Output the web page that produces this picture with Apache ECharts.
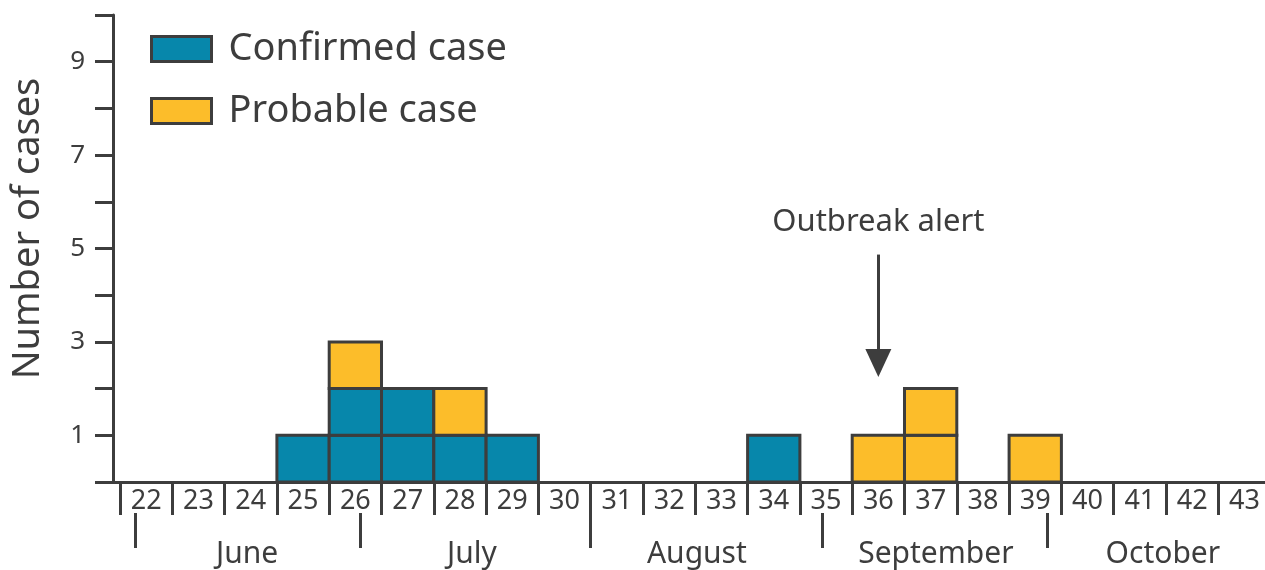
<!DOCTYPE html>
<html>
<head>
<meta charset="utf-8">
<script src="https://cdn.jsdelivr.net/npm/echarts@6/dist/echarts.min.js"></script>
<style>
  html, body { margin: 0; padding: 0; background: #ffffff; }
  #chart { width: 1265px; height: 570px; }
</style>
</head>
<body>
<div id="chart"></div>
<script>
// Epidemiological weeks shown on the axis
const weeks = [22, 23, 24, 25, 26, 27, 28, 29, 30, 31, 32, 33, 34, 35, 36, 37, 38, 39, 40, 41, 42, 43];
// Cases per week
const confirmedCases = [0, 0, 0, 1, 2, 2, 1, 1, 0, 0, 0, 0, 1, 0, 0, 0, 0, 0, 0, 0, 0, 0];
const probableCases  = [0, 0, 0, 0, 1, 0, 1, 0, 0, 0, 0, 0, 0, 0, 1, 2, 0, 1, 0, 0, 0, 0];
// Month boundaries and label centres, in week units
const monthNames = ['June', 'July', 'August', 'September', 'October'];
const monthBoundaries = [21.79, 26.09, 30.5, 34.92, 39.23];
const monthLabelPos = [23.93, 28.23, 32.53, 37.1, 41.44];
// Y tick labels
const yLabels = [1, 3, 5, 7, 9];
// Outbreak alert arrow: week, top and tip (in cases)
const alertWeek = 36;
const alertFrom = 4.87;
const alertTo = 2.55;

const INK = '#3d3d3d';
const FONT = 'Noto Sans';

// One square per case: confirmed at the bottom, probable stacked above
const confirmedCells = [];
const probableCells = [];
weeks.forEach((w, i) => {
  for (let k = 0; k < confirmedCases[i]; k++) confirmedCells.push([w, k]);
  for (let k = 0; k < probableCases[i]; k++) probableCells.push([w, confirmedCases[i] + k]);
});

function renderCell(params, api) {
  const w = api.value(0);
  const k = api.value(1);
  const p0 = api.coord([w - 0.5, k + 1]);
  const p1 = api.coord([w + 0.5, k]);
  return {
    type: 'rect',
    shape: { x: p0[0], y: p0[1], width: p1[0] - p0[0], height: p1[1] - p0[1] },
    style: api.style()
  };
}

function monthLabel(v) {
  let best = 0;
  monthLabelPos.forEach((p, i) => { if (Math.abs(p - v) < Math.abs(monthLabelPos[best] - v)) best = i; });
  return monthNames[best];
}

const xMin = 21.366, xMax = 43.393;

const chart = echarts.init(document.getElementById('chart'), null, { renderer: 'canvas' });
chart.setOption({
  animation: false,
  textStyle: { fontFamily: FONT },
  grid: { left: 113, right: 0, top: 15, bottom: 88, containLabel: false, outerBoundsMode: 'none' },
  legend: {
    left: 145, top: 25, orient: 'vertical',
    itemWidth: 60, itemHeight: 25, itemGap: 24,
    icon: 'rect',
    itemStyle: { borderColor: INK, borderWidth: 3 },
    textStyle: { fontFamily: FONT, fontSize: 38, color: INK, padding: [0, 0, 0, 12] },
    data: ['Confirmed case', 'Probable case']
  },
  xAxis: [
    {
      type: 'value', min: xMin, max: xMax, position: 'bottom',
      splitLine: { show: false },
      axisLine: { lineStyle: { color: INK, width: 3 } },
      axisTick: { customValues: weeks.map(w => w - 0.5), length: 33, lineStyle: { color: INK, width: 3 } },
      axisLabel: { customValues: weeks, margin: 6, fontSize: 27, color: INK, fontFamily: FONT,
                   hideOverlap: false, formatter: v => String(Math.round(v)) }
    },
    {
      type: 'value', min: xMin, max: xMax, position: 'bottom', offset: 31,
      splitLine: { show: false },
      axisLine: { show: false },
      axisTick: { show: true, customValues: monthBoundaries, length: 35, lineStyle: { color: INK, width: 3 } },
      axisLabel: { show: true, customValues: monthLabelPos, margin: 26, fontSize: 30, color: INK, fontFamily: FONT,
                   hideOverlap: false, formatter: v => monthLabel(v) }
    }
  ],
  yAxis: {
    type: 'value', min: 0, max: 10, interval: 1,
    name: 'Number of cases', nameLocation: 'middle', nameRotate: 90, nameGap: 66,
    nameTextStyle: { fontSize: 38, color: INK, fontFamily: FONT, padding: [0, 0, 0, 40] },
    splitLine: { show: false },
    axisLine: { show: true, lineStyle: { color: INK, width: 3 } },
    axisTick: { show: true, length: 18, lineStyle: { color: INK, width: 3 } },
    axisLabel: { margin: 28, fontSize: 26, color: INK, fontFamily: FONT,
                 formatter: v => (yLabels.indexOf(v) >= 0 ? String(v) : '') }
  },
  series: [
    {
      name: 'Confirmed case', type: 'custom', xAxisIndex: 0,
      renderItem: renderCell,
      encode: { x: 0, y: 1 },
      itemStyle: { color: '#0787ab', borderColor: INK, borderWidth: 3 },
      data: confirmedCells
    },
    {
      name: 'Probable case', type: 'custom', xAxisIndex: 0,
      renderItem: renderCell,
      encode: { x: 0, y: 1 },
      itemStyle: { color: '#fcbd2a', borderColor: INK, borderWidth: 3 },
      data: probableCells,
      markLine: {
        silent: true,
        symbol: ['none', 'triangle'],
        symbolSize: [26, 28],
        lineStyle: { color: INK, width: 3, type: 'solid' },
        label: { show: true, position: 'start', distance: 17, formatter: 'Outbreak alert',
                 fontSize: 31, color: INK, fontFamily: FONT },
        data: [[{ coord: [alertWeek, alertFrom] }, { coord: [alertWeek, alertTo] }]]
      }
    }
  ]
});
</script>
</body>
</html>
